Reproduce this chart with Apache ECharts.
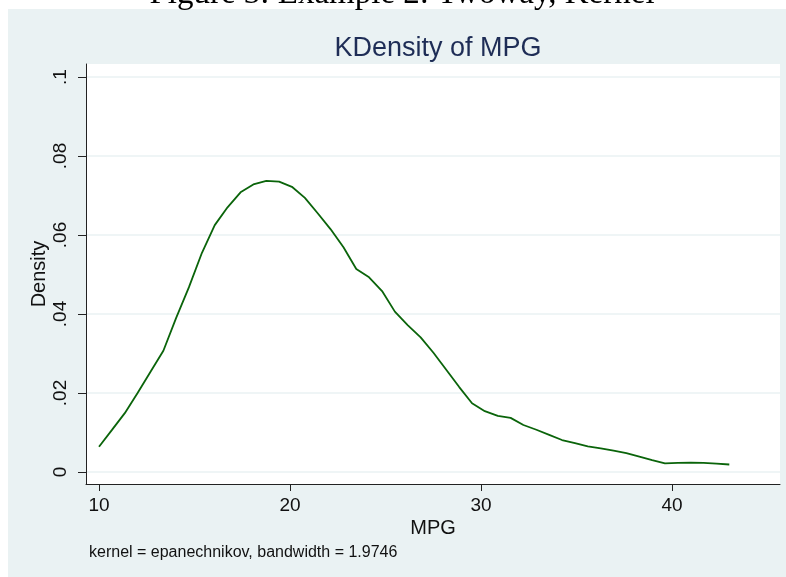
<!DOCTYPE html>
<html>
<head>
<meta charset="utf-8">
<script src="https://cdn.jsdelivr.net/npm/echarts@6/dist/echarts.min.js"></script>
<style>
  html, body { margin: 0; padding: 0; background: #ffffff; }
  #chart { width: 786px; height: 577px; }
</style>
</head>
<body>
<div id="chart"></div>
<script>
// Evaluation points (MPG) and estimated kernel density values
const mpgGrid = [10.00,10.67,11.35,12.02,12.69,13.37,14.04,14.71,15.39,16.06,16.73,17.41,18.08,18.76,19.43,20.10,20.78,21.45,22.12,22.80,23.47,24.14,24.82,25.49,26.16,26.84,27.51,28.18,28.86,29.53,30.20,30.88,31.55,32.22,32.90,33.57,34.24,34.92,35.59,36.27,36.94,37.61,38.29,38.96,39.63,40.31,40.98,41.65,42.33,43.00];
const densityValues = [0.0064,0.0106,0.0149,0.0200,0.0253,0.0307,0.0390,0.0468,0.0555,0.0625,0.0670,0.0708,0.0728,0.0737,0.0735,0.0722,0.0694,0.0655,0.0615,0.0569,0.0514,0.0493,0.0458,0.0406,0.0372,0.0341,0.0302,0.0259,0.0215,0.0174,0.0154,0.0142,0.0137,0.0119,0.0107,0.0094,0.0081,0.0073,0.0065,0.0060,0.0054,0.0048,0.0039,0.0030,0.0022,0.0023,0.00235,0.0023,0.0021,0.0019];

const xTickValues = [10, 20, 30, 40];
const xTickLabels = ['10', '20', '30', '40'];
const yTickValues = [0, 0.02, 0.04, 0.06, 0.08, 0.1];
const yTickLabels = ['0', '.02', '.04', '.06', '.08', '.1'];

const titleText = 'KDensity of MPG';
const captionText = 'Figure 3: Example 2: Twoway, Kernel';
const noteText = 'kernel = epanechnikov, bandwidth = 1.9746';
const xName = 'MPG';
const yName = 'Density';

const chart = echarts.init(document.getElementById('chart'), null, { renderer: 'canvas' });

const seriesData = mpgGrid.map((x, i) => [x, densityValues[i]]);
const FONT = '"Liberation Sans", Arial, sans-serif';

const option = {
  backgroundColor: '#ffffff',
  animation: false,
  graphic: [
    { type: 'rect', z: -100, shape: { x: 8, y: 9, width: 778, height: 568 }, style: { fill: '#eaf2f3' } },
    { type: 'text', z: -90, style: { x: 402, y: 11, text: captionText, fill: '#000', font: '33px "Liberation Serif", "DejaVu Serif", serif', textAlign: 'center', textVerticalAlign: 'bottom' } },
    { type: 'text', z: 10, style: { x: 89, y: 553, text: noteText, fill: '#111', font: '16px ' + FONT, textAlign: 'left', textVerticalAlign: 'middle' } }
  ],
  title: {
    text: titleText,
    left: 433,
    top: 30,
    textAlign: 'center',
    textStyle: { color: '#1e2d56', fontSize: 27, fontWeight: 'normal', fontFamily: FONT }
  },
  grid: {
    left: 86, top: 64, right: 6, bottom: 93,
    show: true, backgroundColor: '#ffffff', borderWidth: 0,
    containLabel: false
  },
  xAxis: {
    type: 'value',
    min: 9.3194, max: 45.654,
    name: xName,
    nameLocation: 'middle',
    nameGap: 34,
    nameMoveOverlap: false,
    nameTextStyle: { color: '#111', fontSize: 20, fontFamily: FONT },
    axisLine: { show: true, onZero: false, lineStyle: { color: '#222', width: 1 } },
    axisTick: { show: true, length: 7, customValues: xTickValues, lineStyle: { color: '#222', width: 1 } },
    axisLabel: { show: true, customValues: xTickValues, margin: 12, color: '#111', fontSize: 19, fontFamily: FONT,
      formatter: (v) => xTickLabels[xTickValues.indexOf(v)] ?? '' },
    splitLine: { show: false }
  },
  yAxis: {
    type: 'value',
    min: -0.003038, max: 0.10329,
    name: yName,
    nameLocation: 'middle',
    nameGap: 37,
    nameRotate: 90,
    nameMoveOverlap: false,
    nameTextStyle: { color: '#111', fontSize: 20, fontFamily: FONT },
    axisLine: { show: true, onZero: false, lineStyle: { color: '#222', width: 1 } },
    axisTick: { show: true, length: 8, customValues: yTickValues, lineStyle: { color: '#222', width: 1 } },
    axisLabel: { show: true, customValues: yTickValues, rotate: 90, margin: 16, color: '#111', fontSize: 19, fontFamily: FONT,
      formatter: (v) => { const i = yTickValues.findIndex(t => Math.abs(t - v) < 1e-9); return i >= 0 ? yTickLabels[i] : ''; } },
    splitLine: { show: true, lineStyle: { color: '#eaf2f3', width: 1.6 } }
  },
  series: [{
    type: 'line',
    data: seriesData,
    showSymbol: false,
    symbol: 'none',
    smooth: false,
    lineStyle: { color: '#0a640a', width: 1.8 },
    silent: true
  }]
};

chart.setOption(option);
</script>
</body>
</html>
